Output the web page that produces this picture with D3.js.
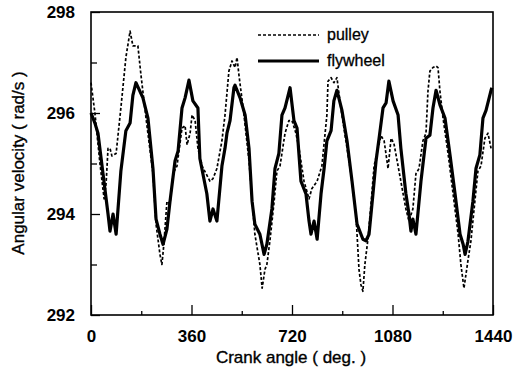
<!DOCTYPE html>
<html>
<head>
<meta charset="utf-8">
<script src="https://cdn.jsdelivr.net/npm/d3@7"></script>
<style>
  html, body { margin: 0; padding: 0; background: #fff; }
  svg { display: block; }
  text { font-family: "Liberation Sans", Arial, Helvetica, sans-serif; fill: #000; }
</style>
</head>
<body>
<svg id="chart" width="528" height="372"></svg>
<script>
// Crank angle (deg.) and angular velocity (rad/s) for the flywheel
const flywheelAngle = [0,14,25,43,61,68,79,90,107,125,140,150,161,186,204,222,233,247,258,272,283,301,312,326,337,351,365,383,390,415,426,437,451,469,480,487,498,512,516,534,552,566,577,587,605,620,630,648,659,673,684,695,713,727,738,752,770,781,788,799,810,824,835,845,860,870,881,899,917,935,953,974,985,996,1010,1021,1032,1046,1057,1067,1082,1100,1110,1128,1139,1146,1153,1164,1182,1200,1214,1225,1236,1250,1268,1286,1304,1322,1333,1340,1350,1368,1379,1393,1404,1415,1433,1436];
const flywheelSpeed = [296.0,295.8,295.6,294.8,294.0,293.66,294.0,293.6,294.85,295.65,295.8,296.35,296.6,296.3,295.9,294.9,293.9,293.6,293.4,293.7,294.25,295.05,295.25,296.1,296.3,296.65,296.24,296.1,295.1,294.4,293.86,294.1,293.86,294.95,295.3,295.6,295.85,296.5,296.55,296.3,295.96,295.3,294.25,293.8,293.6,293.2,293.4,294.1,294.9,295.2,295.96,296.1,296.5,295.85,295.7,294.65,294.4,293.86,293.6,293.86,293.5,294.4,294.9,295.45,295.65,296.24,296.45,296.05,295.45,294.65,293.8,293.5,293.47,293.6,294.4,295.05,295.5,296.1,296.2,296.63,296.24,295.96,295.3,294.4,294.0,293.66,293.9,293.6,294.65,295.5,295.56,296.1,296.45,296.16,295.9,295.17,294.4,293.6,293.4,293.2,293.45,294.25,294.9,295.17,295.9,296.05,296.45,296.5];

// Crank angle (deg.) and angular velocity (rad/s) for the pulley
const pulleyAngle = [0,14,32,47,54,61,68,75,90,107,125,140,150,168,179,197,222,233,247,254,261,272,283,294,308,326,337,344,355,362,373,383,398,412,426,437,451,469,480,494,505,516,523,530,548,566,587,605,613,623,630,641,656,666,677,695,709,720,734,745,763,781,791,810,827,845,849,860,870,881,895,913,931,949,960,967,974,981,992,1003,1014,1028,1039,1050,1064,1075,1085,1100,1118,1128,1139,1153,1164,1175,1189,1200,1207,1214,1225,1236,1243,1250,1261,1279,1297,1315,1325,1336,1350,1361,1375,1386,1397,1411,1422,1433];
const pulleySpeed = [296.6,296.0,295.0,294.3,294.6,295.3,295.3,295.15,295.2,296.1,297.1,297.62,297.33,297.33,296.75,295.9,294.8,293.8,293.2,293.0,293.4,294.25,294.2,294.8,294.95,295.7,295.75,295.37,295.6,295.96,295.85,295.3,294.95,294.8,294.65,294.7,294.9,295.45,295.96,296.83,297.03,296.9,297.1,296.75,295.96,295.05,293.6,293.0,292.53,292.9,293.0,293.47,294.25,294.85,294.95,295.6,295.85,295.85,295.6,295.3,294.65,294.3,294.5,294.65,294.95,295.96,296.63,296.7,296.6,296.7,296.1,295.45,294.8,294.0,292.9,292.6,292.47,293.0,293.5,294.2,294.95,295.3,295.55,295.45,294.9,295.5,295.4,294.95,294.4,294.1,293.86,294.1,294.8,294.9,295.45,295.6,296.43,296.83,296.9,296.93,296.9,296.43,295.9,295.2,294.4,293.6,293.0,292.53,293.07,293.47,294.25,294.85,294.95,295.5,295.6,295.3];

// Axis ticks and legend entries
const xMajorTicks = [0, 360, 720, 1080, 1440];
const xMinorTicks = [180, 540, 900, 1260];
const yMajorTicks = [292, 294, 296, 298];
const yMinorTicks = [293, 295, 297];
const seriesNames = ["pulley", "flywheel"];

const svg = d3.select("#chart");
const margin = { left: 91, top: 12, right: 35, bottom: 57 };
const W = 528, H = 372;
const x = d3.scaleLinear().domain([0, 1440]).range([margin.left, W - margin.right]);
const y = d3.scaleLinear().domain([292, 298]).range([H - margin.bottom, margin.top]);

const x0 = x.range()[0], x1 = x.range()[1];
const y0 = y.range()[0], y1 = y.range()[1];

// Lines
const line = d3.line().x(d => x(d[0])).y(d => y(d[1]));
const pulleyData = d3.zip(pulleyAngle, pulleySpeed);
const flywheelData = d3.zip(flywheelAngle, flywheelSpeed);

const plot = svg.append("g");
plot.append("path").datum(pulleyData)
  .attr("d", line).attr("fill", "none").attr("stroke", "#000")
  .attr("stroke-width", 1.7).attr("stroke-dasharray", "3,2")
  .attr("stroke-linejoin", "round");
plot.append("path").datum(flywheelData)
  .attr("d", line).attr("fill", "none").attr("stroke", "#000")
  .attr("stroke-width", 3.2).attr("stroke-linejoin", "round");

// Frame
svg.append("rect")
  .attr("x", x0).attr("y", y1).attr("width", x1 - x0).attr("height", y0 - y1)
  .attr("fill", "none").attr("stroke", "#000").attr("stroke-width", 1.6);

// Axes with inward ticks
const xAxis = d3.axisBottom(x).tickValues(xMajorTicks).tickSize(-10).tickPadding(15).tickFormat(d3.format("d"));
const xMinor = d3.axisBottom(x).tickValues(xMinorTicks).tickSize(-4).tickFormat("");
const yAxis = d3.axisLeft(y).tickValues(yMajorTicks).tickSize(-9).tickPadding(16).tickFormat(d3.format("d"));
const yMinor = d3.axisLeft(y).tickValues(yMinorTicks).tickSize(-6).tickFormat("");

function styleAxis(g) {
  g.select(".domain").remove();
  g.selectAll(".tick line").attr("stroke", "#000").attr("stroke-width", 1.3);
  g.selectAll(".tick text")
    .attr("font-family", "'Liberation Sans', Arial, sans-serif")
    .attr("font-size", 17).attr("font-weight", "bold").attr("fill", "#000");
}

svg.append("g").attr("transform", `translate(0,${y0})`).call(xAxis).call(styleAxis);
svg.append("g").attr("transform", `translate(0,${y0})`).call(xMinor).call(styleAxis);
svg.append("g").attr("transform", `translate(${x0},0)`).call(yAxis).call(styleAxis);
svg.append("g").attr("transform", `translate(${x0},0)`).call(yMinor).call(styleAxis);

// Axis titles (slightly heavier than regular weight)
svg.append("text")
  .attr("x", 291).attr("y", 363).attr("text-anchor", "middle")
  .attr("font-size", 17).attr("stroke", "#000").attr("stroke-width", 0.35)
  .text("Crank angle ( deg. )");
svg.append("text")
  .attr("transform", "translate(24,163) rotate(-90)")
  .attr("text-anchor", "middle")
  .attr("font-size", 17).attr("stroke", "#000").attr("stroke-width", 0.35)
  .text("Angular velocity ( rad/s )");

// Legend
const legend = svg.append("g");
const legendY = [35, 61];
seriesNames.forEach((name, i) => {
  legend.append("line")
    .attr("x1", 258).attr("x2", 319).attr("y1", legendY[i]).attr("y2", legendY[i])
    .attr("stroke", "#000")
    .attr("stroke-width", i === 0 ? 1.7 : 3.2)
    .attr("stroke-dasharray", i === 0 ? "3,2" : null);
  legend.append("text")
    .attr("x", 327).attr("y", legendY[i] + 5)
    .attr("font-size", 16).attr("stroke", "#000").attr("stroke-width", 0.3)
    .text(name);
});
</script>
</body>
</html>
